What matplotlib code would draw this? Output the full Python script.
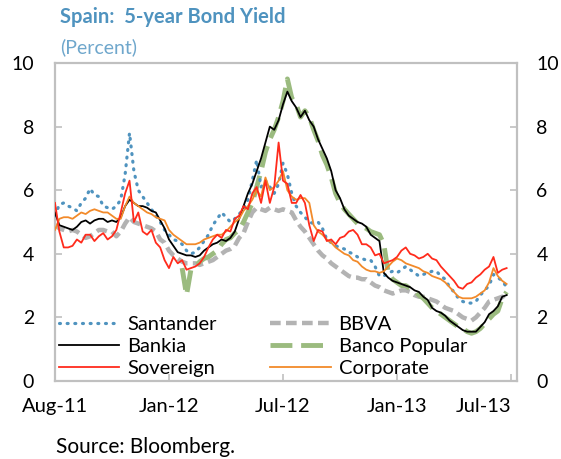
import matplotlib
matplotlib.use("Agg")
import matplotlib.pyplot as plt
import numpy as np
import pandas as pd

# weekly observations, starting 1 Aug 2011
dates = pd.date_range("2011-08-01", periods=104, freq="7D")

santander = [5.2, 5.55, 5.6, 5.5, 5.45, 5.35, 5.6, 5.75, 6.05, 5.85,
             5.8, 5.5, 5.45, 5.4, 5.5, 5.7, 6.5, 7.8, 6.6, 6.0,
             5.8, 5.6, 5.4, 5.2, 5.0, 4.75, 4.6, 4.45, 4.4, 4.3,
             4.1, 4.0, 4.05, 4.2, 4.4, 4.6, 4.9, 5.1, 5.3, 5.15,
             5.0, 5.1, 5.25, 5.4, 5.7, 6.3, 6.95, 6.1, 6.3, 6.1,
             5.9, 6.2, 6.85, 6.5, 5.9, 5.5, 5.3, 5.15, 5.0, 4.95,
             5.0, 4.8, 4.45, 4.35, 4.25, 4.2, 4.15, 4.05, 4.0, 3.9,
             3.85, 3.8, 3.8, 3.6, 3.3, 3.3, 3.4, 3.45, 3.4, 3.5,
             3.6, 3.5, 3.4, 3.3, 3.35, 3.4, 3.45, 3.45, 3.3, 3.2,
             2.95, 2.8, 2.6, 2.5, 2.45, 2.45, 2.5, 2.7, 2.85, 3.0,
             3.35, 3.25, 3.15, 2.95]

bbva = [4.9, 4.8, 4.75, 4.7, 4.75, 4.7, 4.6, 4.5, 4.55, 4.65,
        4.75, 4.75, 4.7, 4.7, 4.55, 4.7, 4.95, 5.15, 5.0, 4.95,
        4.9, 4.85, 4.8, 4.7, 4.45, 4.35, 4.1, 3.95, 3.85, 3.75,
        3.7, 3.7, 3.7, 3.65, 3.7, 3.75, 3.8, 3.9, 4.0, 4.1,
        4.15, 4.25, 4.5, 4.65, 5.0, 5.3, 5.45, 5.4, 5.35, 5.45,
        5.4, 5.35, 5.4, 5.35, 5.3, 5.05, 4.85, 4.7, 4.5, 4.3,
        4.1, 3.95, 3.85, 3.7, 3.6, 3.5, 3.4, 3.3, 3.25, 3.25,
        3.2, 3.2, 3.1, 3.0, 2.95, 2.85, 2.8, 2.75, 2.8, 2.85,
        2.85, 2.8, 2.7, 2.65, 2.65, 2.6, 2.55, 2.5, 2.4, 2.3,
        2.25, 2.2, 2.1, 2.0, 1.95, 1.9, 2.0, 2.15, 2.3, 2.5,
        2.55, 2.6, 2.65, 2.45]

bankia = [5.3, 4.9, 4.85, 4.8, 4.75, 4.85, 5.0, 5.05, 4.95, 5.05,
          5.1, 5.1, 5.0, 5.05, 5.0, 5.15, 5.5, 5.7, 5.6, 5.5,
          5.5, 5.45, 5.35, 5.3, 5.05, 4.8, 4.45, 4.25, 4.05, 4.0,
          3.95, 3.95, 3.9, 3.95, 4.1, 4.2, 4.3, 4.35, 4.45, 4.4,
          4.5, 4.7, 5.1, 5.5, 5.9, 6.2, 6.6, 7.0, 7.5, 8.0,
          7.9, 8.2, 8.7, 9.1, 8.8, 8.6, 8.3, 8.5, 8.2, 8.0,
          7.6, 7.3, 7.0, 6.6, 6.0, 5.75, 5.4, 5.2, 5.1, 5.0,
          4.95, 4.85, 4.6, 4.5, 4.4, 3.4, 3.25, 3.15, 3.1, 3.05,
          3.0, 2.95, 2.85, 2.8, 2.65, 2.55, 2.3, 2.2, 2.15, 2.05,
          1.9, 1.8, 1.7, 1.6, 1.55, 1.55, 1.55, 1.7, 1.85, 2.1,
          2.2, 2.35, 2.65, 2.7]

popular = [np.nan] * 29 + [
    3.55, 2.7, 3.5, 3.6, 3.75, 3.85, 3.9, 4.0, 4.1, 4.3,
    4.45, 4.5, 4.65, 4.75, 5.0, 5.3, 5.6, 6.1, 6.6, 7.2,
    7.6, 7.9, 8.3, 8.8, 9.5, 8.9, 8.7, 8.3, 8.5, 8.3,
    7.9, 7.55, 7.1, 6.8, 6.4, 5.9, 5.6, 5.4, 5.25, 5.1,
    4.95, 4.85, 4.8, 4.7, 4.65, 4.6, 4.3, 3.4, 3.2, 3.1,
    3.0, 3.0, 2.9, 2.85, 2.7, 2.6, 2.45, 2.3, 2.2, 2.1,
    2.0, 1.9, 1.8, 1.7, 1.65, 1.55, 1.5, 1.55, 1.65, 1.8,
    1.95, 2.1, 2.2, 2.6, 2.8]

sovereign = [5.6, 4.7, 4.2, 4.2, 4.25, 4.45, 4.35, 4.6, 4.6, 4.4,
             4.55, 4.65, 4.45, 4.55, 4.75, 5.3, 5.9, 6.3, 5.0, 5.3,
             4.7, 4.6, 4.75, 4.35, 4.2, 3.8, 3.55, 3.9, 3.7, 3.8,
             3.5, 3.55, 3.6, 3.7, 3.9, 4.2, 4.45, 4.6, 4.5, 4.75,
             4.7, 5.1, 5.2, 5.5, 5.4, 5.9, 6.1, 5.6, 6.3, 5.6,
             6.1, 7.5, 6.3, 6.2, 5.6, 5.6, 5.85, 5.6, 4.9, 4.4,
             4.75, 4.7, 4.4, 4.45, 4.3, 4.5, 4.55, 4.7, 4.75, 4.6,
             4.3, 4.3, 4.2, 3.95, 4.0, 3.7, 3.75, 3.8, 3.9, 4.1,
             4.2, 4.0, 3.95, 3.85, 3.9, 4.0, 3.85, 3.8, 3.6, 3.45,
             3.3, 3.15, 2.95, 2.9, 3.05, 3.1, 3.25, 3.35, 3.5, 3.6,
             3.9, 3.4, 3.5, 3.55]

corporate = [4.75, 5.1, 5.15, 5.15, 5.1, 5.2, 5.3, 5.25, 5.35, 5.4,
             5.35, 5.3, 5.3, 5.2, 5.1, 5.1, 5.5, 5.8, 5.6, 5.5,
             5.4, 5.3, 5.25, 5.15, 5.1, 5.05, 4.75, 4.6, 4.5, 4.4,
             4.3, 4.3, 4.3, 4.35, 4.45, 4.5, 4.55, 4.6, 4.6, 4.7,
             4.85, 5.0, 5.1, 5.35, 5.5, 5.7, 6.0, 5.8, 6.4, 6.0,
             6.1, 6.3, 6.6, 6.0, 5.8, 5.7, 5.75, 5.75, 5.6, 4.9,
             4.7, 4.6, 4.45, 4.35, 4.2, 4.1, 4.0, 3.95, 3.8, 3.75,
             3.6, 3.5, 3.45, 3.45, 3.4, 3.45, 3.6, 3.75, 3.85, 3.8,
             3.7, 3.65, 3.6, 3.55, 3.45, 3.4, 3.3, 3.25, 3.2, 3.1,
             2.95, 2.8, 2.65, 2.6, 2.6, 2.6, 2.65, 2.75, 2.85, 3.1,
             3.55, 3.3, 3.15, 3.05]

tick_dates = pd.to_datetime(["2011-08-01", "2012-01-30", "2012-07-30",
                             "2013-01-28", "2013-07-29"])
tick_labels = ["Aug-11", "Jan-12", "Jul-12", "Jan-13", "Jul-13"]

plt.rcParams["font.family"] = ["Lato", "DejaVu Sans"]

fig = plt.figure(figsize=(5.61, 4.59), dpi=100)
ax = fig.add_axes([0.098, 0.170, 0.8236, 0.6927])

blue = "#4f93bf"
grey = "#b3b3b3"
green = "#9bbb7f"
red = "#ff2b1c"
orange = "#f28a2a"

ax.plot(dates, bbva, color=grey, lw=3.2, ls=(0, (2.4, 1.2)), label="BBVA", zorder=2)
ax.plot(dates, popular, color=green, lw=3.5, ls=(0, (4.5, 1.8)), label="Banco Popular", zorder=2)
ax.plot(dates, santander, color=blue, lw=2.3, ls=(0, (0.3, 2.1)),
        dash_capstyle="round", label="Santander", zorder=3)
ax.plot(dates, bankia, color="black", lw=1.3, label="Bankia", zorder=4)
ax.plot(dates, corporate, color=orange, lw=1.3, label="Corporate", zorder=5)
ax.plot(dates, sovereign, color=red, lw=1.3, label="Sovereign", zorder=6)

ax.set_ylim(0, 10)
ax.set_xlim(pd.Timestamp("2011-08-01"), pd.Timestamp("2011-08-01") + pd.Timedelta(days=737.6))
ax.set_yticks([0, 2, 4, 6, 8, 10])
ax.set_xticks(tick_dates)
ax.set_xticklabels(tick_labels)
ax.get_xticklabels()[-1].set_horizontalalignment("right")

spine_col = "#c0c0c0"
for s in ax.spines.values():
    s.set_color(spine_col)
    s.set_linewidth(1.6)
ax.tick_params(axis="both", direction="in", color=spine_col, width=1.2, length=5,
               labelcolor="black")
ax.tick_params(axis="y", pad=15, labelsize=14)
ax.tick_params(axis="x", pad=12, labelsize=14.5)

ax2 = ax.twinx()
ax2.set_ylim(0, 10)
ax2.set_yticks([0, 2, 4, 6, 8, 10])
for s in ax2.spines.values():
    s.set_visible(False)
ax2.tick_params(axis="y", direction="in", color=spine_col, width=1.2, length=5,
                labelsize=14, labelcolor="black", pad=14)

handles, labels = ax.get_legend_handles_labels()
order = ["Santander", "Bankia", "Sovereign", "BBVA", "Banco Popular", "Corporate"]
hmap = dict(zip(labels, handles))
ax.legend([hmap[k] for k in order], order, ncol=2, loc="lower left",
          bbox_to_anchor=(-0.018, -0.025), frameon=False, fontsize=14.5,
          handlelength=3.0, handletextpad=0.4, columnspacing=2.65,
          labelspacing=0.24, borderaxespad=0.2)

fig.text(0.107, 0.962, "Spain:  5-year Bond Yield", color="#4f93bf", fontsize=14.5,
         fontweight="bold", va="center", ha="left")
fig.text(0.107, 0.898, "(Percent)", color="#6fa7cc", fontsize=14, va="center", ha="left")
fig.text(0.100, 0.026, "Source: Bloomberg.", color="black", fontsize=15, va="center", ha="left")

fig.savefig("out.png", dpi=100)
